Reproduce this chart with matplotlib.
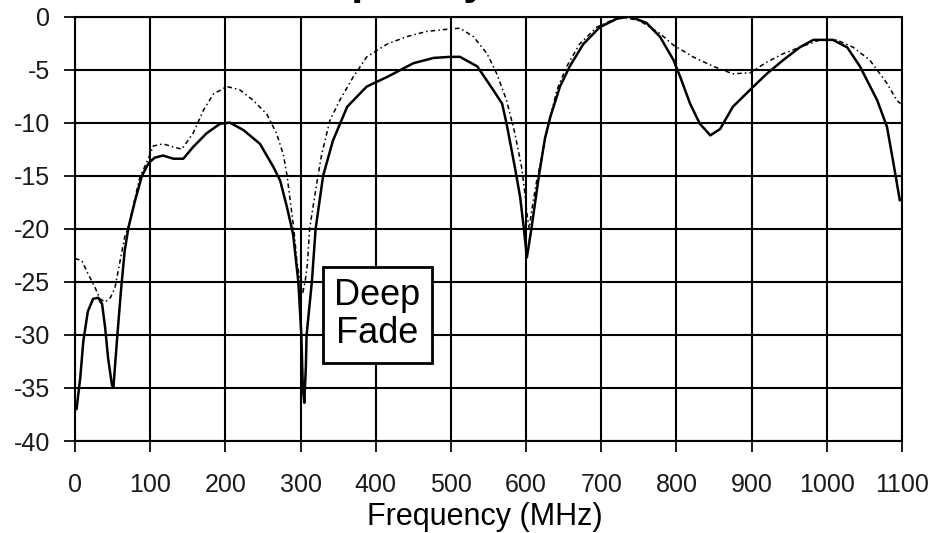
import matplotlib
matplotlib.use('Agg')
import matplotlib.pyplot as plt

plt.rcParams['axes.unicode_minus'] = False

# solid trace (deep fades)
freq_a = [0, 2, 7, 11, 17, 24, 31, 36, 40, 44, 49, 51, 53, 56, 61, 66, 71,
          80, 89, 98, 106, 117, 131, 144, 157, 175, 193, 206, 224, 246, 264,
          273, 282, 290, 297, 301, 303, 305, 307, 308, 315, 320, 330, 343,
          362, 388, 415, 450, 477, 499, 512, 535, 556, 568, 574, 585, 592,
          597, 601, 607, 617, 625, 632, 645, 658, 676, 698, 721, 738, 760,
          778, 796, 805, 818, 831, 845, 858, 875, 898, 920, 942, 964, 982,
          1008, 1027, 1044, 1067, 1080, 1088, 1097]
level_a = [-36.5, -37, -34, -30.6, -27.8, -26.6, -26.5, -27.1, -29.3, -32.2,
           -34.7, -35, -33.1, -30.3, -25.9, -22.1, -19.9, -17.3, -15, -13.8,
           -13.3, -13.1, -13.4, -13.4, -12.3, -11, -10.1, -10, -10.7, -12,
           -14.2, -15.5, -18, -20.5, -25, -30, -35, -36.4, -33, -30, -25, -20,
           -15, -11.7, -8.5, -6.6, -5.7, -4.4, -3.9, -3.8, -3.8, -4.7, -6.9,
           -8.2, -10.1, -14.2, -17, -20, -22.7, -20, -15, -11.5, -9.5, -6.6,
           -4.7, -2.6, -1.0, -0.2, 0, -0.6, -1.9, -4.1, -5.7, -8.2, -10.1,
           -11.2, -10.6, -8.5, -6.9, -5.4, -4.1, -2.9, -2.2, -2.2, -2.9, -4.7,
           -7.9, -10.4, -13.6, -17.3]

# dotted trace
freq_b = [0, 9, 17, 27, 33, 40, 47, 53, 60, 66, 71, 86, 98, 104, 117, 131,
          142, 157, 171, 184, 202, 219, 237, 255, 268, 277, 282, 291, 295,
          300, 303, 306, 309, 312, 322, 328, 339, 352, 370, 388, 415, 441,
          468, 495, 512, 530, 548, 561, 574, 585, 594, 598, 601, 604, 608,
          614, 620, 627, 641, 654, 671, 694, 725, 751, 778, 796, 822, 849,
          875, 898, 920, 942, 964, 991, 1013, 1035, 1057, 1080, 1093, 1098]
level_b = [-22.8, -23, -24.2, -25.6, -26.6, -26.9, -26.5, -25.6, -23, -20.8,
           -19.8, -15.2, -13.3, -12.2, -12.0, -12.3, -12.5, -11, -8.8, -7.3,
           -6.6, -6.9, -7.9, -9.2, -11, -13, -15, -20, -23, -25.3, -26, -25,
           -23.4, -20, -15.5, -13, -9.8, -7.9, -5.7, -3.8, -2.6, -1.9, -1.4,
           -1.2, -1.1, -1.9, -3.5, -5.4, -7.9, -11, -14.2, -16.5, -18.5, -20,
           -18, -15.5, -13.5, -11, -6.9, -4.7, -2.6, -1.0, 0, -0.4, -1.6,
           -2.7, -3.8, -4.7, -5.4, -5.3, -4.3, -3.5, -2.9, -2.2, -2.2, -2.9,
           -4.1, -6.3, -7.9, -8.2]

xticks = list(range(0, 1101, 100))
yticks = list(range(-40, 1, 5))

text_font = ['Liberation Sans', 'DejaVu Sans']

fig = plt.figure(figsize=(9.31, 5.33), dpi=100)
ax = fig.add_axes([0.0806, 0.1726, 0.8883, 0.7964])

ax.plot(freq_b, level_b, color='black', lw=1.1, ls=(0, (3, 2, 1, 2)))
ax.plot(freq_a, level_a, color='black', lw=1.8)

ax.set_xlim(0, 1100)
ax.set_ylim(-40, 0)
ax.set_xticks(xticks)
ax.set_yticks(yticks)
ax.grid(True, color='black', lw=1.5)
ax.set_axisbelow(True)
for s in ax.spines.values():
    s.set_linewidth(1.5)

ax.tick_params(axis='both', direction='out', length=8, width=1.4,
               colors='#1a1a1a', labelsize=18)
ax.tick_params(axis='x', pad=15)
ax.tick_params(axis='y', pad=10)
for lab in ax.get_xticklabels() + ax.get_yticklabels():
    lab.set_family(text_font)

ax.set_xlabel('Frequency (MHz)', fontsize=22, family=text_font)
ax.xaxis.set_label_coords(0.496, -0.198)
ax.xaxis.label.set_va('baseline')

ax.text(402, -28.1, 'Deep\nFade', fontsize=26, family=text_font,
        ha='center', va='center', linespacing=1.1,
        bbox=dict(boxstyle='square,pad=0.32', fc='white', ec='black', lw=2))

# title mostly cropped off the top of the picture
fig.text(270 / 931, 1.011, 'Frequency Selective', fontsize=31,
         fontweight='bold', family=text_font, ha='left', va='baseline')

fig.savefig('out.png', dpi=100)
